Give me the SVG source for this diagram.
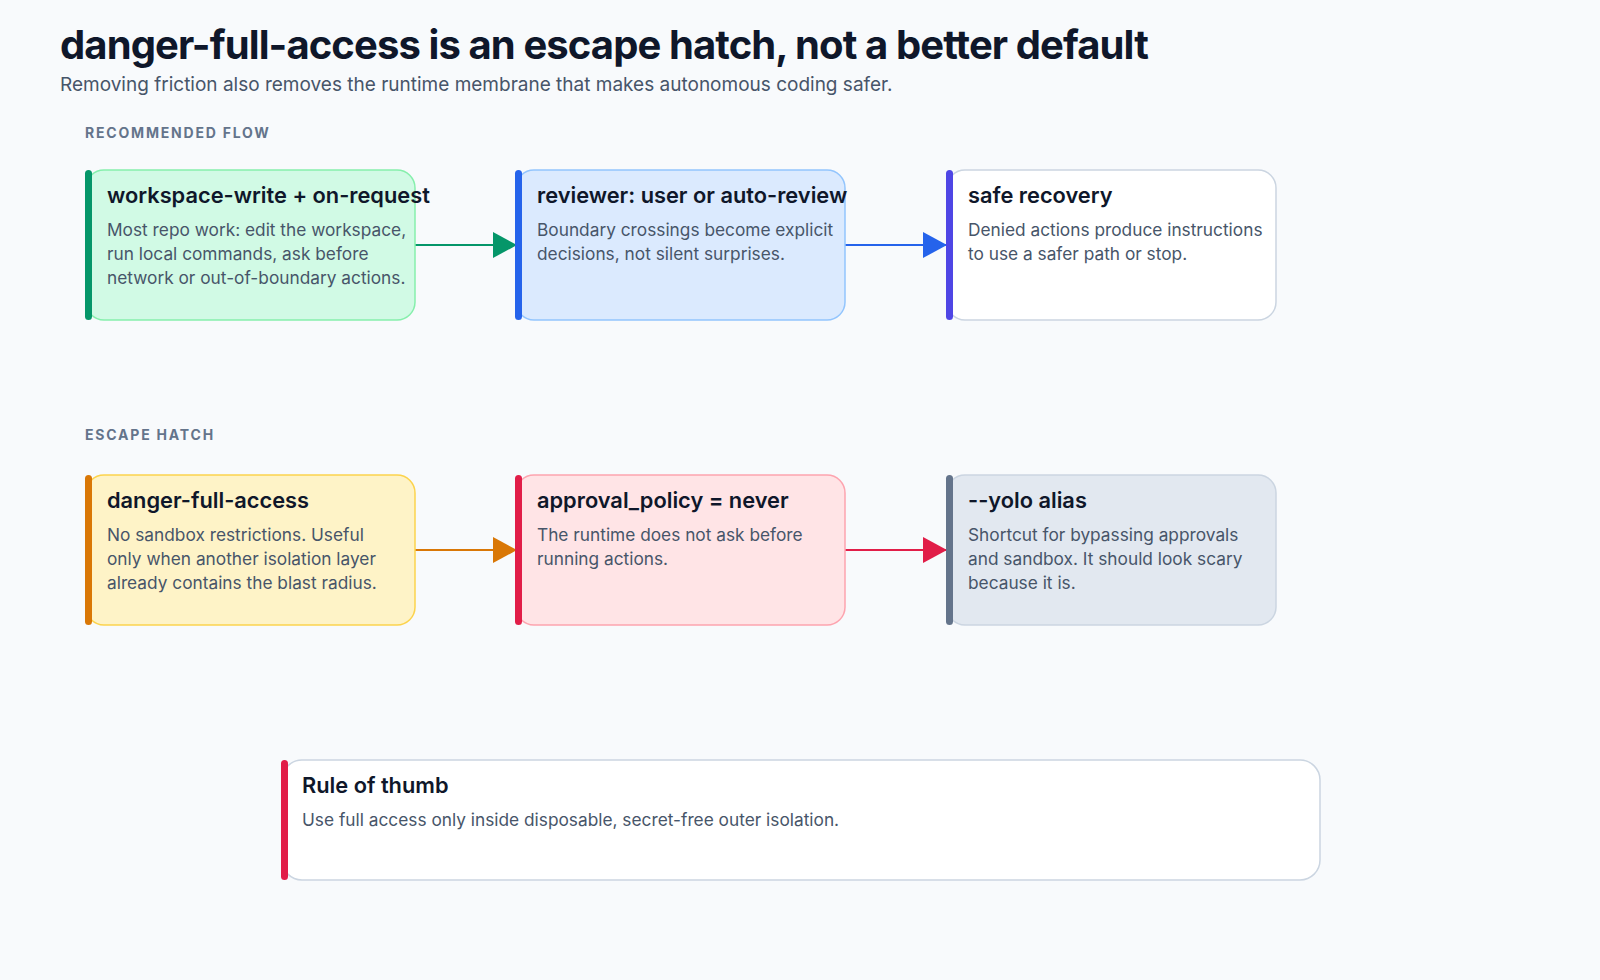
<svg xmlns="http://www.w3.org/2000/svg" width="1600" height="980" viewBox="0 0 1600 980">
<defs>
<style>
.bg{fill:#f8fafc}
.h1{font-family:Inter,"Liberation Sans",sans-serif;font-size:40px;font-weight:700;fill:#0f172a;letter-spacing:-0.9px}
.sub{font-family:Inter,"Liberation Sans",sans-serif;font-size:19px;fill:#475569}
.sec{font-family:Inter,"Liberation Sans",sans-serif;font-size:14px;font-weight:700;fill:#64748b;letter-spacing:1.8px}
.t{font-family:Inter,"Liberation Sans",sans-serif;font-size:21.8px;font-weight:600;fill:#0f172a}
.d{font-family:Inter,"Liberation Sans",sans-serif;font-size:17.3px;fill:#475569}
.box{stroke-width:1.5}
.edge{fill:none;stroke-width:2}
</style>
<marker id="ag" viewBox="0 0 24 26" refX="24" refY="13" markerWidth="24" markerHeight="26" markerUnits="userSpaceOnUse" orient="auto"><path d="M0,0L24,13L0,26z" fill="#059669"/></marker>
<marker id="ab" viewBox="0 0 24 26" refX="24" refY="13" markerWidth="24" markerHeight="26" markerUnits="userSpaceOnUse" orient="auto"><path d="M0,0L24,13L0,26z" fill="#2563eb"/></marker>
<marker id="ao" viewBox="0 0 24 26" refX="24" refY="13" markerWidth="24" markerHeight="26" markerUnits="userSpaceOnUse" orient="auto"><path d="M0,0L24,13L0,26z" fill="#d97706"/></marker>
<marker id="ar" viewBox="0 0 24 26" refX="24" refY="13" markerWidth="24" markerHeight="26" markerUnits="userSpaceOnUse" orient="auto"><path d="M0,0L24,13L0,26z" fill="#e11d48"/></marker>
</defs>
<rect class="bg" x="0" y="0" width="1600" height="980"/>
<text class="h1" x="60" y="59">danger-full-access is an escape hatch, not a better default</text>
<text class="sub" x="60" y="91">Removing friction also removes the runtime membrane that makes autonomous coding safer.</text>
<text class="sec" x="85" y="138">RECOMMENDED FLOW</text>
<text class="sec" x="85" y="440">ESCAPE HATCH</text>

<g id="connectors">
<path class="edge" d="M415,245H517" stroke="#059669" marker-end="url(#ag)"/>
<path class="edge" d="M845,245H947" stroke="#2563eb" marker-end="url(#ab)"/>
<path class="edge" d="M415,550H517" stroke="#d97706" marker-end="url(#ao)"/>
<path class="edge" d="M845,550H947" stroke="#e11d48" marker-end="url(#ar)"/>
</g>

<g id="n1">
<rect class="box" x="86" y="170" width="329" height="150" rx="18" fill="#d1fae5" stroke="#86efac"/>
<rect x="85" y="170" width="7" height="150" rx="3.5" fill="#059669"/>
<text class="t" x="107" y="203">workspace-write + on-request</text>
<text class="d" x="107" y="236">Most repo work: edit the workspace,</text>
<text class="d" x="107" y="260">run local commands, ask before</text>
<text class="d" x="107" y="284">network or out-of-boundary actions.</text>
</g>
<g id="n2">
<rect class="box" x="516" y="170" width="329" height="150" rx="18" fill="#dbeafe" stroke="#93c5fd"/>
<rect x="515" y="170" width="7" height="150" rx="3.5" fill="#2563eb"/>
<text class="t" x="537" y="203">reviewer: user or auto-review</text>
<text class="d" x="537" y="236">Boundary crossings become explicit</text>
<text class="d" x="537" y="260">decisions, not silent surprises.</text>
</g>
<g id="n3">
<rect class="box" x="947" y="170" width="329" height="150" rx="18" fill="#ffffff" stroke="#cbd5e1"/>
<rect x="946" y="170" width="7" height="150" rx="3.5" fill="#4f46e5"/>
<text class="t" x="968" y="203">safe recovery</text>
<text class="d" x="968" y="236">Denied actions produce instructions</text>
<text class="d" x="968" y="260">to use a safer path or stop.</text>
</g>
<g id="n4">
<rect class="box" x="86" y="475" width="329" height="150" rx="18" fill="#fef3c7" stroke="#fcd34d"/>
<rect x="85" y="475" width="7" height="150" rx="3.5" fill="#d97706"/>
<text class="t" x="107" y="508">danger-full-access</text>
<text class="d" x="107" y="541">No sandbox restrictions. Useful</text>
<text class="d" x="107" y="565">only when another isolation layer</text>
<text class="d" x="107" y="589">already contains the blast radius.</text>
</g>
<g id="n5">
<rect class="box" x="516" y="475" width="329" height="150" rx="18" fill="#ffe4e6" stroke="#fda4af"/>
<rect x="515" y="475" width="7" height="150" rx="3.5" fill="#e11d48"/>
<text class="t" x="537" y="508">approval_policy = never</text>
<text class="d" x="537" y="541">The runtime does not ask before</text>
<text class="d" x="537" y="565">running actions.</text>
</g>
<g id="n6">
<rect class="box" x="947" y="475" width="329" height="150" rx="18" fill="#e2e8f0" stroke="#cbd5e1"/>
<rect x="946" y="475" width="7" height="150" rx="3.5" fill="#64748b"/>
<text class="t" x="968" y="508">--yolo alias</text>
<text class="d" x="968" y="541">Shortcut for bypassing approvals</text>
<text class="d" x="968" y="565">and sandbox. It should look scary</text>
<text class="d" x="968" y="589">because it is.</text>
</g>
<g id="rule">
<rect class="box" x="282" y="760" width="1038" height="120" rx="20" fill="#ffffff" stroke="#cbd5e1"/>
<rect x="281" y="760" width="7" height="120" rx="3.5" fill="#e11d48"/>
<text class="t" x="302" y="793">Rule of thumb</text>
<text class="d" x="302" y="826">Use full access only inside disposable, secret-free outer isolation.</text>
</g>
</svg>
